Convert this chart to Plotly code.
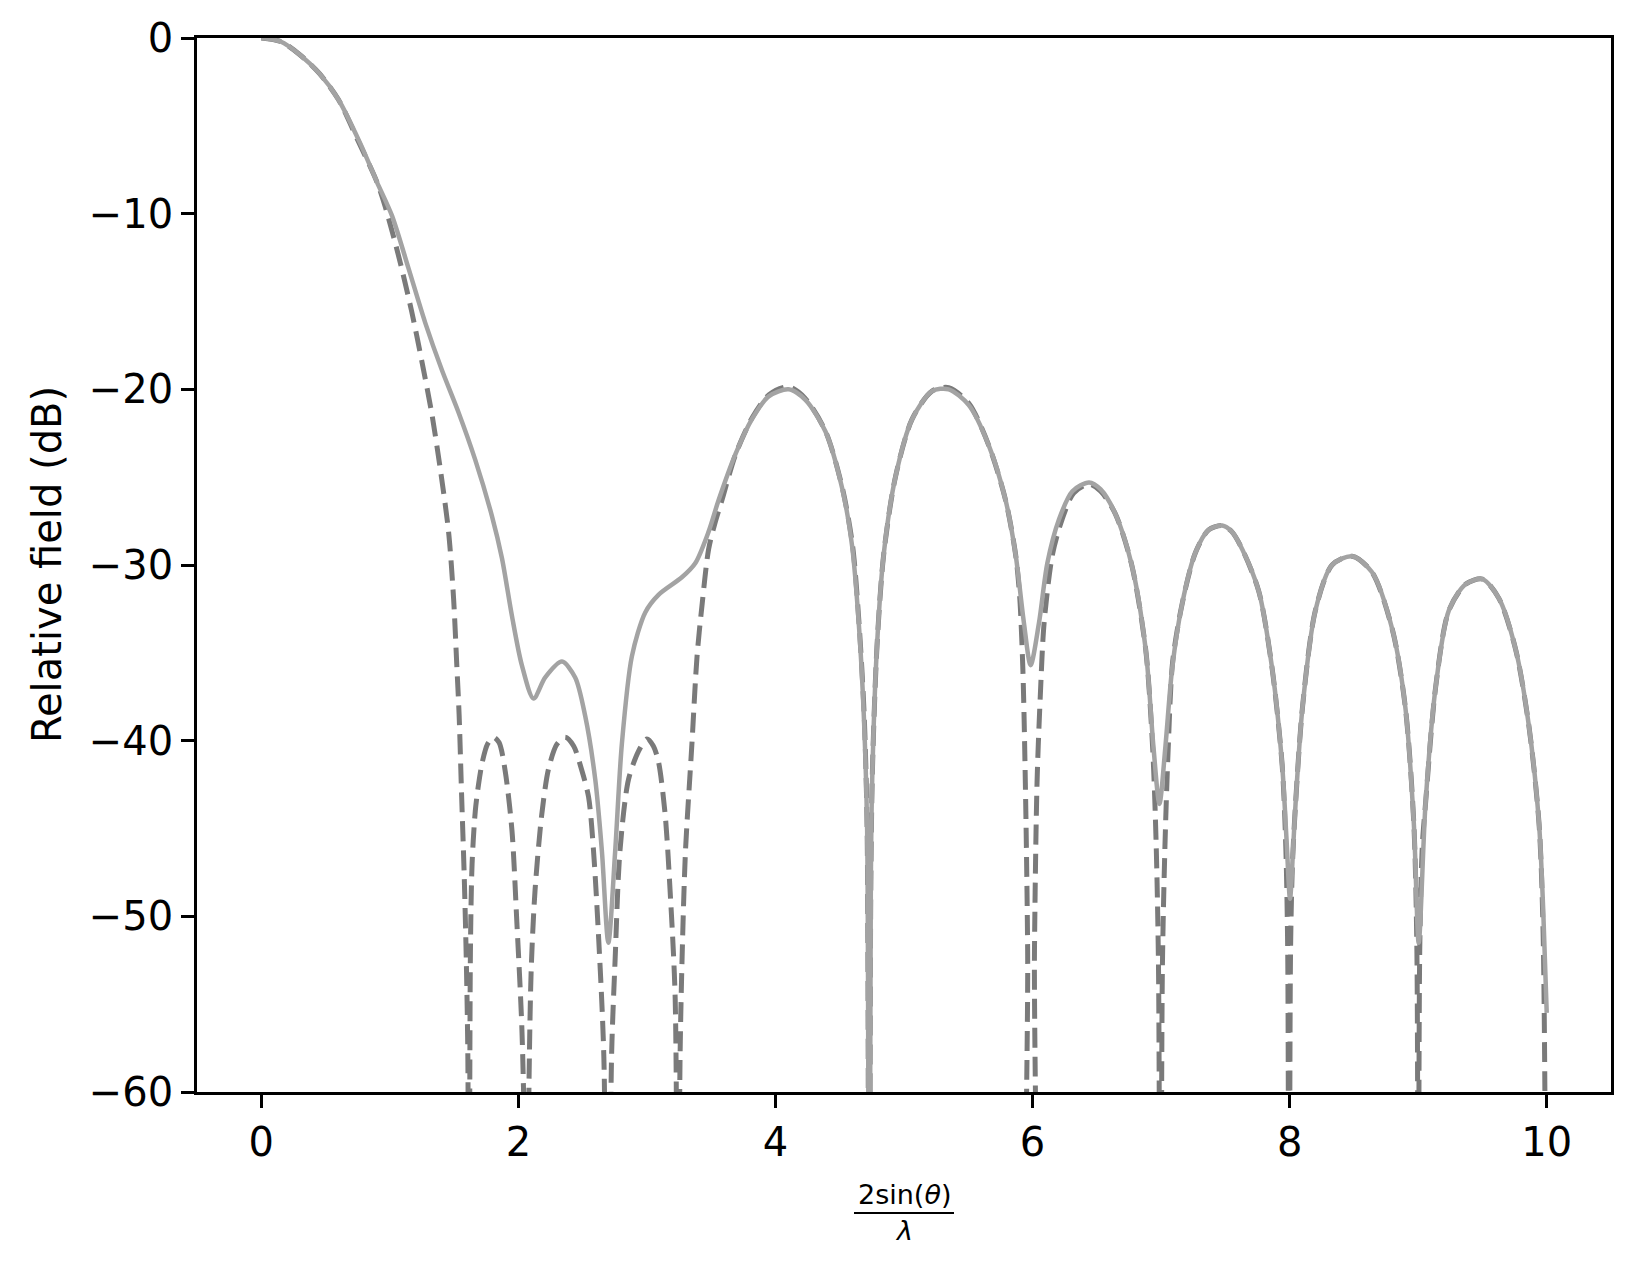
import plotly.graph_objects as go

# ---- data ----
x_dashed = [0.00, 0.15, 0.30, 0.45, 0.60, 0.75, 0.90, 0.964, 1.068, 1.171, 1.249, 1.327, 1.392, 1.457, 1.496, 1.521, 1.539, 1.558, 1.578, 1.595, 1.607, 1.615,
            1.627, 1.64, 1.665, 1.69, 1.72, 1.76, 1.807, 1.85, 1.897, 1.95, 1.988, 2.027, 2.048, 2.065,
            2.082, 2.10, 2.13, 2.182, 2.235, 2.30, 2.365, 2.43, 2.49, 2.546, 2.585, 2.625, 2.665, 2.695,
            2.725, 2.753, 2.79, 2.857, 2.935, 3.0, 3.05, 3.09, 3.142, 3.18, 3.22, 3.24,
            3.258, 3.275, 3.30, 3.35, 3.39, 3.43, 3.48, 3.53, 3.584, 3.69, 3.82, 3.95, 4.10, 4.23, 4.39, 4.52, 4.60, 4.65, 4.69, 4.713, 4.728,
            4.742, 4.755, 4.79, 4.842, 4.933, 5.063, 5.218, 5.348, 5.504, 5.66, 5.79, 5.868, 5.90, 5.925, 5.944, 5.962, 5.975,
            6.0, 6.015, 6.035, 6.06, 6.09, 6.155, 6.23, 6.32, 6.44, 6.53, 6.645, 6.77, 6.88, 6.935, 6.962, 6.98, 6.995,
            7.01, 7.03, 7.055, 7.09, 7.164, 7.267, 7.37, 7.475, 7.55, 7.631, 7.76, 7.864, 7.942, 7.97, 7.985, 7.995,
            8.007, 8.022, 8.046, 8.10, 8.20, 8.33, 8.486, 8.64, 8.80, 8.90, 8.966, 8.99, 9.0,
            9.012, 9.032, 9.057, 9.135, 9.238, 9.368, 9.50, 9.628, 9.758, 9.862, 9.94, 9.972, 10.0]
db_dashed = [0.0, -0.2, -0.95, -2.0, -3.5, -5.8, -8.2, -9.6, -12.4, -15.6, -18.4, -21.4, -24.5, -28.1, -31.9, -35.7, -38.5, -43.0, -47.5, -52.5, -58.0, -80,
             -52, -47, -44, -42.5, -41.2, -40.2, -39.8, -40.1, -41.7, -45.1, -50.3, -56.3, -63, -80,
             -60, -53, -48.5, -44.2, -41.6, -40.2, -39.8, -40.3, -41.6, -43.2, -46.3, -51.3, -58, -80,
             -58, -52.4, -46.3, -42.2, -40.6, -39.9, -40.3, -41.2, -44.2, -48.5, -54.7, -80,
             -58, -52, -46.3, -40.2, -35.2, -32.2, -29.1, -27.6, -26.3, -23.7, -21.6, -20.3, -19.85, -20.5, -22.4, -25.6, -28.9, -33.3, -38.5, -45, -80,
             -48, -41.5, -34.6, -29.4, -25.0, -21.7, -20.1, -19.9, -20.8, -23.2, -26.3, -29.4, -31.8, -36.0, -42.4, -52, -80,
             -80, -52, -42.4, -37.5, -33.3, -29.4, -27.4, -25.9, -25.4, -25.8, -27.1, -29.95, -34.8, -40.5, -46, -53, -80,
             -53, -46, -40.5, -35.5, -32.2, -29.3, -28.0, -27.75, -28.1, -29.1, -31.5, -35.9, -41.4, -46, -52, -80,
             -52, -47, -43.6, -38.1, -32.6, -30.0, -29.5, -30.4, -33.7, -38.1, -44.7, -52, -80,
             -52, -46, -43.6, -37.0, -32.6, -31.1, -30.8, -31.9, -34.8, -39.2, -44.7, -51, -80]

x_solid = [0.00, 0.15, 0.30, 0.45, 0.60, 0.77, 0.90, 1.016, 1.145, 1.275, 1.405, 1.534, 1.664, 1.794, 1.872, 1.95, 2.027, 2.118, 2.209, 2.339,
           2.442, 2.52, 2.598, 2.65, 2.70, 2.753, 2.805, 2.883, 2.987, 3.09, 3.272, 3.376, 3.48, 3.558, 3.688, 3.817, 3.947,
           4.103, 4.233, 4.389, 4.518, 4.596, 4.648, 4.687, 4.713, 4.728, 4.742, 4.752, 4.79, 4.842, 4.933, 5.063, 5.218, 5.348,
           5.504, 5.66, 5.79, 5.868, 5.933, 5.985, 6.05, 6.115, 6.206, 6.31, 6.44, 6.53, 6.645, 6.77, 6.88, 6.94, 6.987, 7.034,
           7.086, 7.164, 7.267, 7.37, 7.475, 7.55, 7.631, 7.76, 7.864, 7.942, 7.975, 8.003, 8.028, 8.046, 8.10, 8.20, 8.33,
           8.486, 8.64, 8.80, 8.90, 8.966, 9.004, 9.057, 9.135, 9.238, 9.368, 9.50, 9.628, 9.758, 9.862, 9.94, 9.972, 10.0]
db_solid = [0.0, -0.2, -0.95, -2.0, -3.5, -6.0, -8.2, -10.1, -13.1, -16.2, -18.9, -21.3, -24.0, -27.2, -29.6, -32.9, -35.7, -37.6, -36.4, -35.5,
            -36.4, -38.6, -42.2, -46.3, -51.5, -46.3, -40.2, -35.2, -32.7, -31.7, -30.7, -29.9, -28.1, -26.3, -23.7, -21.7, -20.4,
            -20.0, -20.6, -22.4, -25.6, -28.9, -33.3, -38.5, -45, -80, -48, -42.4, -34.6, -29.4, -25.0, -21.7, -20.1, -20.0,
            -20.9, -23.2, -26.3, -29.4, -33.3, -35.7, -33.3, -29.9, -27.4, -25.8, -25.3, -25.7, -27.1, -29.95, -34.8, -40.3, -43.6, -40.3,
            -35.9, -32.2, -29.3, -28.0, -27.75, -28.1, -29.1, -31.5, -35.9, -41.4, -45.5, -49.0, -46.0, -43.6, -38.1, -32.6, -30.0,
            -29.5, -30.4, -33.7, -38.1, -44.7, -51.5, -43.6, -37.0, -32.6, -31.1, -30.8, -31.9, -34.8, -39.2, -44.7, -49.5, -55.5]

x_ticks = [0, 2, 4, 6, 8, 10]
y_ticks = [0, -10, -20, -30, -40, -50, -60]

FONT = "DejaVu Sans"
FS = 40
W, H = 1642, 1263
L, R, T, B = 197, 31, 38, 171

fig = go.Figure()
fig.add_trace(go.Scatter(x=x_dashed, y=db_dashed, mode="lines",
                         line=dict(color="#7a7a7a", width=5, dash="20px,9px", shape="spline", smoothing=0.8),
                         showlegend=False, hoverinfo="skip"))
fig.add_trace(go.Scatter(x=x_solid, y=db_solid, mode="lines",
                         line=dict(color="#a3a3a3", width=4.5, shape="spline", smoothing=0.8),
                         showlegend=False, hoverinfo="skip"))

axis_common = dict(showline=True, linecolor="black", linewidth=2.8, mirror=True,
                   ticks="outside", ticklen=13, tickwidth=2.8, tickcolor="black",
                   showgrid=False, zeroline=False,
                   tickfont=dict(family=FONT, size=FS, color="black"))

fig.update_xaxes(range=[-0.5, 10.5], tickvals=x_ticks, ticktext=[str(v) for v in x_ticks], **axis_common)
fig.update_yaxes(range=[-60, 0], tickvals=y_ticks, ticktext=[("\u2212" + str(-v)) if v < 0 else str(v) for v in y_ticks],
                 **axis_common)

pw = W - L - R
ph = H - T - B

def px_to_paper_x(px):
    return (px - L) / pw

def px_to_paper_y(py):
    return (H - B - py) / ph

annotations = [
    dict(text="Relative field (dB)", xref="paper", yref="paper",
         x=px_to_paper_x(47), y=0.5, xanchor="center", yanchor="middle",
         textangle=-90, showarrow=False, font=dict(family=FONT, size=FS, color="black")),
    dict(text="2sin(<i>θ</i>)", xref="paper", yref="paper",
         x=0.5, y=px_to_paper_y(1194), xanchor="center", yanchor="middle",
         showarrow=False, font=dict(family=FONT, size=27, color="black")),
    dict(text="<i>λ</i>", xref="paper", yref="paper",
         x=0.5, y=px_to_paper_y(1230), xanchor="center", yanchor="middle",
         showarrow=False, font=dict(family=FONT, size=27, color="black")),
]

shapes = [
    dict(type="line", xref="paper", yref="paper",
         x0=px_to_paper_x(854), x1=px_to_paper_x(954),
         y0=px_to_paper_y(1213), y1=px_to_paper_y(1213),
         line=dict(color="black", width=2)),
]

fig.update_layout(width=W, height=H, autosize=False,
                  margin=dict(l=L, r=R, t=T, b=B, pad=0),
                  plot_bgcolor="white", paper_bgcolor="white",
                  annotations=annotations, shapes=shapes,
                  font=dict(family=FONT, color="black"))

fig.write_html("out.html", config={"displayModeBar": False},
               post_script="document.body.style.margin='0';document.body.style.overflow='hidden';")
